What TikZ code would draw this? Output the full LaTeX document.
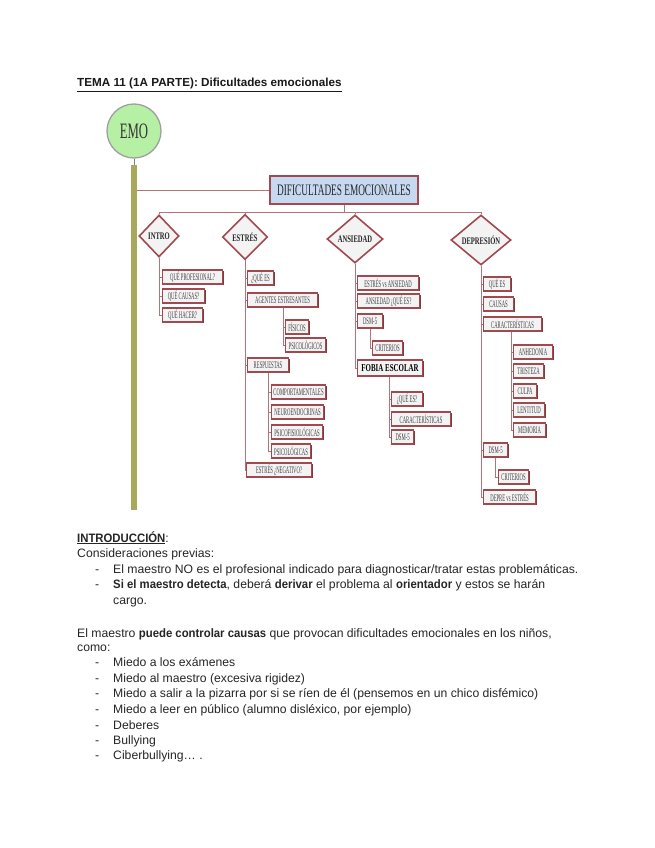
\documentclass[tikz,border=0pt]{standalone}
\usepackage{fontspec}
\setmainfont{Liberation Sans}
\newfontfamily\cond[FakeStretch=0.66]{Liberation Serif}
\newfontfamily\subf[FakeStretch=0.47]{Liberation Serif}
\newfontfamily\difont[FakeStretch=0.58]{Liberation Serif}
\newfontfamily\bnarrow[FakeStretch=0.93]{Liberation Sans Bold}
\newcommand\bn[1]{{\bnarrow #1}}
\usetikzlibrary{shapes.geometric,shadows}
\definecolor{boxred}{HTML}{A04A50}
\definecolor{linered}{HTML}{B5737A}
\definecolor{boxfill}{HTML}{F3F3F3}
\definecolor{difblue}{HTML}{C6D9F0}
\definecolor{emogreen}{HTML}{B5F0A5}
\definecolor{olivebar}{HTML}{A9A95C}
\begin{document}
\begin{tikzpicture}[x=1pt,y=-1pt,
  sub/.style={draw=boxred, line width=1.1pt, fill=boxfill, anchor=west,
    minimum height=14pt, inner xsep=1.5pt, inner ysep=0pt, text=black!75,
    font=\subf\fontsize{10}{10}\selectfont,
    drop shadow={shadow xshift=1pt, shadow yshift=-1pt, fill=boxred!80!black, opacity=1}},
  subbig/.style={sub, font=\cond\bfseries\fontsize{10.5}{10.5}\selectfont, text=black, minimum height=16pt},
  dia/.style={diamond, draw=boxred, line width=1.6pt, fill=boxfill, inner sep=0pt,
    font=\cond\bfseries\fontsize{10}{10}\selectfont, text=black!85},
  conn/.style={draw=linered, line width=0.9pt},
  body/.style={anchor=base west, inner sep=0pt, font=\fontsize{12.2}{14}\selectfont, text=black!85},
  head/.style={anchor=base west, inner sep=0pt, font=\bfseries\fontsize{11.7}{14}\selectfont, text=black!90}
]
\useasboundingbox[fill=white] (0,0) rectangle (655,848);

% ---------- title ----------
\node[head] (title) at (77,87) {\underline{TEMA 11 (1A PARTE): Dificultades emocionales}};

% ---------- EMO and bar ----------
\node[circle, draw=gray!75, line width=1.3pt, fill=emogreen, minimum size=54pt, inner sep=0pt,
  font=\difont\fontsize{22}{22}\selectfont, text=black!80] (emo) at (134,131) {EMO};
\node[fill=olivebar, minimum width=6pt, minimum height=345pt, inner sep=0pt, anchor=north] (bar) at (134,165) {};
\draw[gray, line width=0.8pt] (emo.south) -- (bar.north);

% ---------- main box ----------
\node[draw=boxred, line width=1.8pt, fill=difblue, minimum width=148pt, minimum height=28pt, inner sep=0pt,
  font=\difont\fontsize{16}{16}\selectfont, text=black!85,
  drop shadow={shadow xshift=1pt, shadow yshift=-1pt, fill=boxred!80!black, opacity=1}] (dif) at (344,190) {DIFICULTADES EMOCIONALES};
\draw[conn] (bar.east |- dif.west) -- (dif.west);

% ---------- diamonds ----------
\node[dia, minimum width=40pt, minimum height=42pt] (intro) at (159,236) {INTRO};
\node[dia, minimum width=45pt, minimum height=45pt] (estres) at (245,237) {ESTRÉS};
\node[dia, minimum width=56pt, minimum height=48pt] (ansiedad) at (355,239) {ANSIEDAD};
\node[dia, minimum width=60pt, minimum height=50pt] (depresion) at (481,240) {DEPRESIÓN};

\path (dif.south) ++(0,7.5) coordinate (bus);
\draw[conn] (dif.south) -- (bus);
\foreach \n in {intro,estres,ansiedad,depresion} \draw[conn] (\n.north) |- (bus);

% ---------- INTRO ----------
\node[sub, minimum width=60pt] (i1) at (162,277) {QUÉ PROFESIONAL?};
\node[sub, minimum width=42pt] (i2) at (162,296) {QUÉ CAUSAS?};
\node[sub, minimum width=40pt] (i3) at (162,315) {QUÉ HACER?};
\foreach \c in {i1,i2,i3} \draw[conn] (intro.south) |- (\c.west);

% ---------- ESTRÉS ----------
\node[sub, minimum width=26pt] (e1) at (247,278) {¿QUÉ ES};
\node[sub, minimum width=70pt] (e2) at (247,300) {AGENTES ESTRESANTES};
\node[sub, minimum width=23pt] (e21) at (285,327) {FÍSICOS};
\node[sub, minimum width=40pt] (e22) at (285,345) {PSICOLÓGICOS};
\node[sub, minimum width=41pt] (e3) at (247,365) {RESPUESTAS};
\node[sub, minimum width=54pt] (e31) at (271,392) {COMPORTAMENTALES};
\node[sub, minimum width=52pt] (e32) at (271,412) {NEUROENDOCRINAS};
\node[sub, minimum width=51pt] (e33) at (271,432) {PSICOFISIOLÓGICAS};
\node[sub, minimum width=39pt] (e34) at (271,451) {PSICOLÓGICAS};
\node[sub, minimum width=65pt] (e4) at (246,470) {ESTRÉS ¿NEGATIVO?};
\foreach \c in {e1,e2,e3,e4} \draw[conn] (estres.south) |- (\c.west);
\path (e21.west) ++(-2pt,0) coordinate (e2L);
\foreach \c in {e21,e22} \draw[conn] (e2L |- e2.south) |- (\c.west);
\path (e31.west) ++(-3pt,0) coordinate (e3L);
\foreach \c in {e31,e32,e33,e34} \draw[conn] (e3L |- e3.south) |- (\c.west);

% ---------- ANSIEDAD ----------
\node[sub, minimum width=61pt] (a1) at (357,283) {ESTRÉS vs ANSIEDAD};
\node[sub, minimum width=62pt] (a2) at (357,301) {ANSIEDAD ¿QUÉ ES?};
\node[sub, minimum width=25pt] (a3) at (357,321) {DSM-5};
\node[sub, minimum width=30pt] (a31) at (372,348) {CRITERIOS};
\node[subbig, minimum width=65pt] (a4) at (357,368) {FOBIA ESCOLAR};
\node[sub, minimum width=31pt] (a41) at (391,399) {¿QUÉ ES?};
\node[sub, minimum width=59pt] (a42) at (391,419) {CARACTERÍSTICAS};
\node[sub, minimum width=22pt] (a43) at (391,437) {DSM-5};
\foreach \c in {a1,a2,a3,a4} \draw[conn] (ansiedad.south) |- (\c.west);
\path (a31.west) ++(-2pt,0) coordinate (a3L);
\draw[conn] (a3L |- a3.south) |- (a31.west);
\path (a41.west) ++(-2pt,0) coordinate (a4L);
\foreach \c in {a41,a42,a43} \draw[conn] (a4L |- a4.south) |- (\c.west);

% ---------- DEPRESIÓN ----------
\node[sub, minimum width=27pt] (d1) at (483,284) {QUÉ ES};
\node[sub, minimum width=30pt] (d2) at (483,304) {CAUSAS};
\node[sub, minimum width=58pt] (d3) at (483,324) {CARACTERÍSTICAS};
\node[sub, minimum width=39pt] (d31) at (513,352) {ANHEDONIA};
\node[sub, minimum width=30pt] (d32) at (513,371) {TRISTEZA};
\node[sub, minimum width=23pt] (d33) at (513,391) {CULPA};
\node[sub, minimum width=31pt] (d34) at (513,410) {LENTITUD};
\node[sub, minimum width=32pt] (d35) at (513,430) {MEMORIA};
\node[sub, minimum width=24pt] (d4) at (483,450) {DSM-5};
\node[sub, minimum width=30pt] (d41) at (498,477) {CRITERIOS};
\node[sub, minimum width=52pt] (d5) at (483,497) {DEPRE vs ESTRÉS};
\foreach \c in {d1,d2,d3,d4,d5} \draw[conn] (depresion.south) |- (\c.west);
\path (d31.west) ++(-2pt,0) coordinate (d3L);
\foreach \c in {d31,d32,d33,d34,d35} \draw[conn] (d3L |- d3.south) |- (\c.west);
\path (d41.west) ++(-3pt,0) coordinate (d4L);
\draw[conn] (d4L |- d4.south) |- (d41.west);

% ---------- text ----------
\node[body] (t1) at (77,542) {\underline{\bn{INTRODUCCIÓN}}:};
\node[body] (t2) at (77,557) {Consideraciones previas:};
\node[body] (b1) at (95,573) {-};
\node[body] (t3) at (113,573) {El maestro NO es el profesional indicado para diagnosticar/tratar estas problemáticas.};
\node[body] (b2) at (95,588) {-};
\node[body] (t4) at (113,588) {\bn{Si el maestro detecta}, deberá \bn{derivar} el problema al \bn{orientador} y estos se harán};
\node[body] (t5) at (113,604) {cargo.};
\node[body] (t6) at (77,637) {El maestro \bn{puede controlar causas} que provocan dificultades emocionales en los niños,};
\node[body] (t7) at (77,651) {como:};
\node[body] (b3) at (95,666) {-};
\node[body] (t8) at (113,666) {Miedo a los exámenes};
\node[body] (b4) at (95,682) {-};
\node[body] (t9) at (113,682) {Miedo al maestro (excesiva rigidez)};
\node[body] (b5) at (95,697) {-};
\node[body] (t10) at (113,697) {Miedo a salir a la pizarra por si se ríen de él (pensemos en un chico disfémico)};
\node[body] (b6) at (95,713) {-};
\node[body] (t11) at (113,713) {Miedo a leer en público (alumno disléxico, por ejemplo)};
\node[body] (b7) at (95,729) {-};
\node[body] (t12) at (113,729) {Deberes};
\node[body] (b8) at (95,744) {-};
\node[body] (t13) at (113,744) {Bullying};
\node[body] (b9) at (95,759) {-};
\node[body] (t14) at (113,759) {Ciberbullying… .};
\end{tikzpicture}
\end{document}
